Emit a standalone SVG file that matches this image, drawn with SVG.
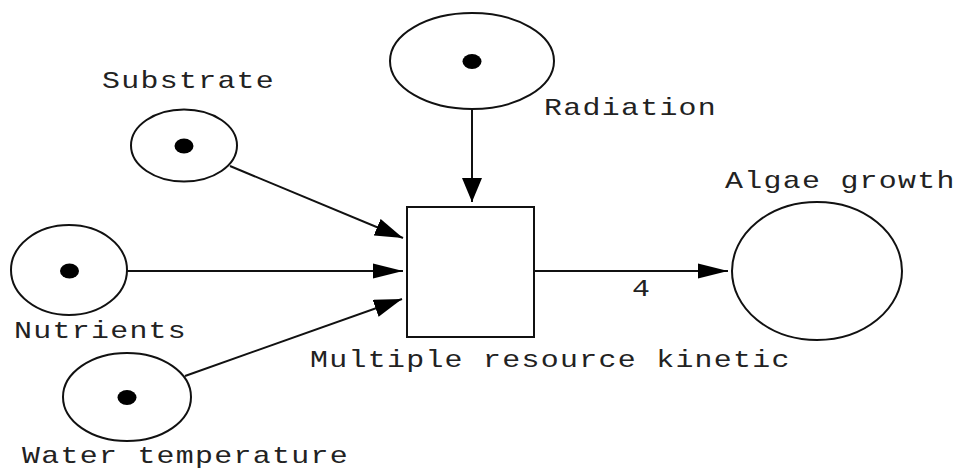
<svg xmlns="http://www.w3.org/2000/svg" width="954" height="468" viewBox="0 0 954 468">
<style>
.place{fill:#fff;stroke:#111;stroke-width:2}
.tok{fill:#000}
.trans{fill:#fff;stroke:#111;stroke-width:2}
.arc{stroke:#111;stroke-width:2;fill:none}
.h{marker-end:url(#ah-h)}
.v{marker-end:url(#ah-v)}
.d{marker-end:url(#ah-d)}
.lbl{font-family:"Liberation Mono","Courier New",monospace;font-size:23px;letter-spacing:1px;fill:#222}
</style>
<defs>
<marker id="ah-h" markerUnits="userSpaceOnUse" markerWidth="30" markerHeight="16" refX="30" refY="8" orient="auto">
<path d="M0,0.5 L30,8 L0,15.5 z" fill="#000"/>
</marker>
<marker id="ah-v" markerUnits="userSpaceOnUse" markerWidth="24" markerHeight="20" refX="24" refY="10" orient="auto">
<path d="M0,0 L24,10 L0,20 z" fill="#000"/>
</marker>
<marker id="ah-d" markerUnits="userSpaceOnUse" markerWidth="28" markerHeight="18" refX="28" refY="9" orient="auto">
<path d="M0,0 L28,9 L0,18 z" fill="#000"/>
</marker>
</defs>
<g id="connectors">
<line class="arc v" x1="472" y1="109" x2="472" y2="202"/>
<line class="arc d" x1="230" y1="166" x2="403" y2="238"/>
<line class="arc h" x1="127" y1="271" x2="403" y2="271"/>
<line class="arc d" x1="185" y1="376" x2="402" y2="299"/>
<line class="arc h" x1="534" y1="271" x2="728" y2="271"/>
<text class="lbl" transform="translate(632,296) scale(1.3,1)">4</text>
</g>
<g id="radiation">
<ellipse class="place" cx="472" cy="61" rx="82" ry="48"/>
<ellipse class="tok" cx="472" cy="61.5" rx="9.5" ry="7.5"/>
<text class="lbl" transform="translate(544,115) scale(1.3,1)">Radiation</text>
</g>
<g id="substrate">
<ellipse class="place" cx="184" cy="145.5" rx="53" ry="36"/>
<ellipse class="tok" cx="184" cy="146" rx="9.5" ry="7.5"/>
<text class="lbl" transform="translate(102,88) scale(1.3,1)">Substrate</text>
</g>
<g id="nutrients">
<ellipse class="place" cx="69" cy="270" rx="58" ry="45"/>
<ellipse class="tok" cx="69.5" cy="271" rx="9.5" ry="7.5"/>
<text class="lbl" transform="translate(14,338) scale(1.3,1)">Nutrients</text>
</g>
<g id="water-temperature">
<ellipse class="place" cx="127" cy="397" rx="64" ry="44"/>
<ellipse class="tok" cx="127" cy="397.5" rx="9.5" ry="7.5"/>
<text class="lbl" transform="translate(22,463) scale(1.3,1)">Water temperature</text>
</g>
<g id="kinetic">
<rect class="trans" x="407" y="207" width="127" height="130"/>
<text class="lbl" transform="translate(310,367) scale(1.3,1)">Multiple resource kinetic</text>
</g>
<g id="algae-growth">
<ellipse class="place" cx="817" cy="271" rx="85" ry="69"/>
<text class="lbl" transform="translate(725,188) scale(1.3,1)">Algae growth</text>
</g>
</svg>
